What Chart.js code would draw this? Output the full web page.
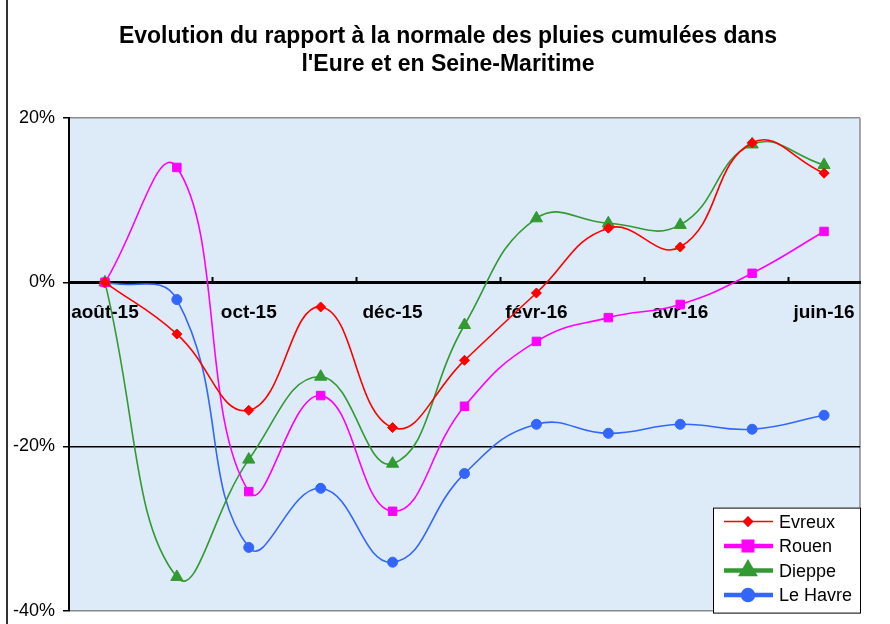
<!DOCTYPE html>
<html>
<head>
<meta charset="utf-8">
<script src="https://cdn.jsdelivr.net/npm/chart.js@4.4.0/dist/chart.umd.min.js"></script>
<style>
  body { margin: 0; background: #fff; }
</style>
</head>
<body>
<canvas id="pluies" width="890" height="624"></canvas>
<script>
// mois (un label sur deux est affiché)
var months = ["août-15", "sept-15", "oct-15", "nov-15", "déc-15", "janv-16", "févr-16", "mars-16", "avr-16", "mai-16", "juin-16"];

// rapport à la normale, en %
var evreux   = [0, -6.3, -15.6, -3.0, -17.7, -9.5, -1.3, 6.6, 4.3, 17.0, 13.3];
var rouen    = [0, 14.0, -25.5, -13.8, -27.9, -15.1, -7.2, -4.3, -2.7, 1.1, 6.2];
var dieppe   = [0, -35.9, -21.6, -11.5, -22.1, -5.2, 7.8, 7.2, 7.0, 16.8, 14.3];
var leHavre  = [0, -2.1, -32.3, -25.1, -34.1, -23.3, -17.3, -18.4, -17.3, -17.9, -16.2];

var yMin = -40, yMax = 20, yStep = 20;

var FONT = "Arial, 'Liberation Sans', sans-serif";

function serie(label, values, color, style, radius, legendWidth) {
	return {
		label: label,
		data: values,
		borderColor: color,
		backgroundColor: color,
		pointBackgroundColor: color,
		pointBorderColor: color,
		borderWidth: 1.6,
		pointStyle: style,
		pointRadius: radius,
		pointHoverRadius: radius,
		pointBorderWidth: 1,
		tension: 0.45,
		fill: false,
		legendWidth: legendWidth
	};
}

// fond de la zone de tracé + trait du cadre à gauche
var fondPlugin = {
	id: "fond",
	beforeDraw: function(chart) {
		var c = chart.ctx, a = chart.chartArea;
		c.save();
		c.fillStyle = "#dcebf7";
		c.fillRect(a.left, a.top, a.right - a.left, a.bottom - a.top);
		c.strokeStyle = "#8a8a8a";
		c.lineWidth = 1.5;
		c.beginPath();
		c.moveTo(a.right, a.top);
		c.lineTo(a.right, a.bottom);
		c.stroke();
		c.fillStyle = "#333";
		c.fillRect(6, 0, 2, chart.height);
		c.restore();
	}
};

// légende encadrée en bas à droite, comme dans Excel
var legendePlugin = {
	id: "legendeExcel",
	afterDraw: function(chart) {
		var c = chart.ctx, a = chart.chartArea;
		var w = 147, h = 105;
		var x0 = a.right - w, y0 = a.bottom - h + 2;
		c.save();
		c.fillStyle = "#fff";
		c.fillRect(x0, y0, w, h);
		c.strokeStyle = "#000";
		c.lineWidth = 1;
		c.strokeRect(x0 + 0.5, y0 + 0.5, w, h);
		c.font = "18px " + FONT;
		c.textBaseline = "middle";
		chart.data.datasets.forEach(function(ds, i) {
			var y = y0 + 14 + i * 24.5;
			c.strokeStyle = ds.borderColor;
			c.lineWidth = ds.legendWidth;
			c.beginPath();
			c.moveTo(x0 + 11, y);
			c.lineTo(x0 + 60, y);
			c.stroke();
			c.fillStyle = ds.borderColor;
			Chart.helpers.drawPoint(c, {
				pointStyle: ds.pointStyle,
				radius: i === 0 ? 4.5 : ds.pointRadius,
				borderWidth: 1
			}, x0 + 35, y);
			c.fillStyle = "#000";
			c.fillText(ds.label, x0 + 66, y + 1);
		});
		c.restore();
	}
};

var ctx = document.getElementById("pluies");

var chart = new Chart(ctx, {
	type: "line",
	data: {
		labels: months,
		datasets: [
			serie("Evreux", evreux, "#ff0000", "rectRot", 5, 1.5),
			serie("Rouen", rouen, "#ff00ff", "rect", 6, 4.5),
			serie("Dieppe", dieppe, "#339933", "triangle", 7, 4.5),
			serie("Le Havre", leHavre, "#3366ff", "circle", 5, 4.5)
		]
	},
	options: {
		responsive: false,
		animation: false,
		layout: {
			padding: { left: 10, right: 4, top: 0, bottom: 0 }
		},
		plugins: {
			legend: { display: false },
			tooltip: { enabled: false },
			title: {
				display: true,
				text: ["Evolution du rapport à la normale des pluies cumulées dans", "l'Eure et en Seine-Maritime"],
				color: "#000",
				font: { family: FONT, size: 23, weight: "bold", lineHeight: 1.2 },
				padding: { top: 23, bottom: 40 }
			}
		},
		scales: {
			x: {
				type: "category",
				position: { y: 0 },
				offset: true,
				grid: {
					drawOnChartArea: false,
					offset: true,
					tickLength: -7,
					tickWidth: 2,
					tickColor: function(c) {
						return (c.index % 2 === 0 && c.index > 0 && c.index < months.length) ? "#000" : "rgba(0,0,0,0)";
					}
				},
				border: { color: "#000", width: 3 },
				ticks: {
					autoSkip: false,
					maxRotation: 0,
					padding: 26,
					color: "#000",
					font: { family: FONT, size: 19, weight: "bold" },
					callback: function(v, i) {
						return i % 2 === 0 ? months[i] : "";
					}
				}
			},
			y: {
				min: yMin,
				max: yMax,
				afterFit: function(s) { s.width = 59; },
				grid: {
					tickLength: 6,
					tickColor: "#000",
					lineWidth: 1.5,
					color: function(c) {
						if (!c.tick) return "rgba(0,0,0,0)";
						if (c.tick.value === -20) return "#000";
						if (c.tick.value === 0) return "rgba(0,0,0,0)";
						return "#8a8a8a";
					}
				},
				border: { color: "#000", width: 2 },
				ticks: {
					stepSize: yStep,
					padding: 8,
					color: "#000",
					font: { family: FONT, size: 18, lineHeight: 0.6 },
					callback: function(v) { return v + "%"; }
				}
			},
			// axe vide à droite : marge blanche à droite du tracé
			y2: {
				position: "right",
				min: yMin,
				max: yMax,
				afterFit: function(s) { s.width = 26; },
				grid: { display: false },
				border: { display: false },
				ticks: { display: false }
			}
		}
	},
	plugins: [fondPlugin, legendePlugin]
});
</script>
</body>
</html>
